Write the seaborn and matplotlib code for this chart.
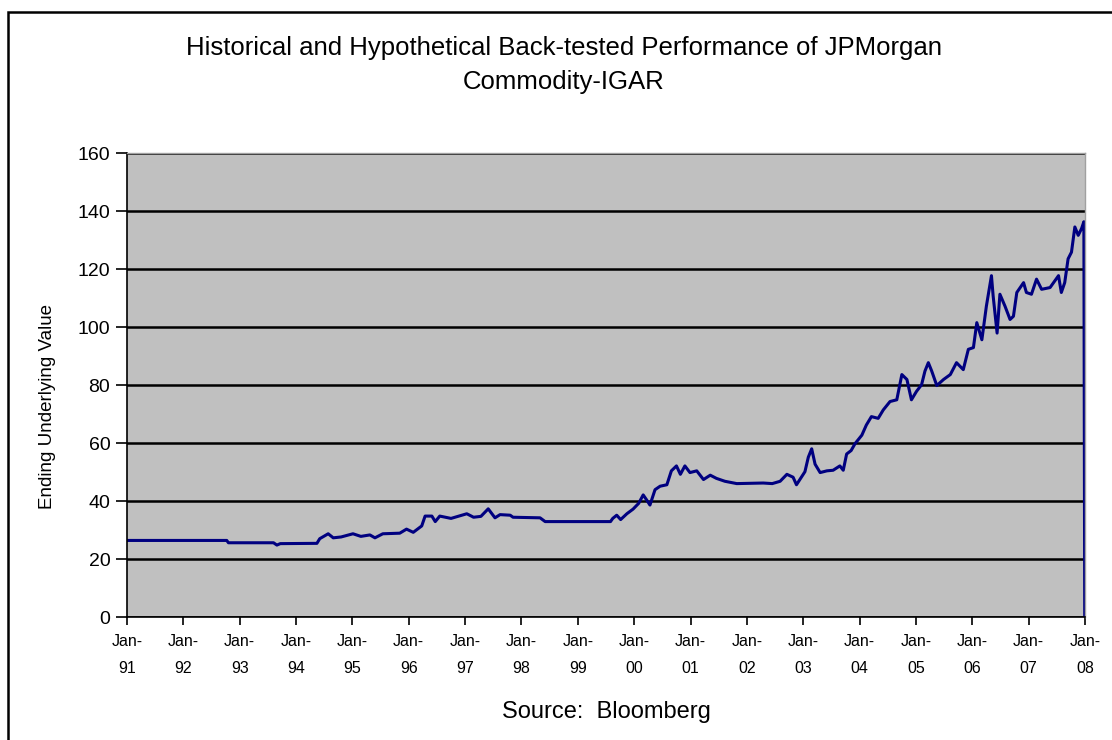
import pandas as pd
import seaborn as sns
import matplotlib.pyplot as plt
from matplotlib.patches import Rectangle

# dates as decimal years
years = [
    1991.00, 1992.77, 1992.80, 1993.60, 1993.66, 1993.72, 1994.37, 1994.42,
    1994.57, 1994.66, 1994.80, 1995.01, 1995.15, 1995.31, 1995.40, 1995.54,
    1995.84, 1995.96, 1996.08, 1996.23, 1996.29, 1996.41, 1996.47, 1996.55,
    1996.75, 1997.03, 1997.15, 1997.28, 1997.41, 1997.53, 1997.62, 1997.80,
    1997.85, 1998.33, 1998.42, 1999.58, 1999.62, 1999.69, 1999.76, 1999.87,
    1999.98, 2000.08, 2000.16, 2000.22, 2000.28, 2000.37, 2000.46, 2000.58,
    2000.66, 2000.75, 2000.82, 2000.90, 2000.99, 2001.11, 2001.23, 2001.35,
    2001.46, 2001.61, 2001.82, 2002.29, 2002.45, 2002.59, 2002.71, 2002.82,
    2002.88, 2002.94, 2003.03, 2003.09, 2003.15, 2003.21, 2003.30, 2003.42,
    2003.53, 2003.65, 2003.71, 2003.77, 2003.85, 2003.92, 2004.04, 2004.12,
    2004.21, 2004.33, 2004.42, 2004.54, 2004.66, 2004.75, 2004.84, 2004.92,
    2005.01, 2005.10, 2005.16, 2005.22, 2005.28, 2005.37, 2005.49, 2005.61,
    2005.72, 2005.84, 2005.93, 2006.02, 2006.08, 2006.17, 2006.25, 2006.34,
    2006.37, 2006.44, 2006.49, 2006.58, 2006.67, 2006.73, 2006.79, 2006.91,
    2006.96, 2007.05, 2007.14, 2007.23, 2007.38, 2007.53, 2007.58, 2007.64,
    2007.70, 2007.76, 2007.82, 2007.88, 2007.94, 2007.98, 2007.995,
]
values = [
    26.4, 26.4, 25.6, 25.6, 24.8, 25.3, 25.4, 27.0,
    28.7, 27.3, 27.6, 28.7, 27.8, 28.3, 27.3, 28.7,
    28.9, 30.3, 29.2, 31.4, 34.8, 34.8, 32.9, 34.8,
    34.0, 35.6, 34.4, 34.7, 37.3, 34.2, 35.3, 35.1,
    34.4, 34.2, 32.9, 32.9, 34.0, 35.1, 33.6, 35.6,
    37.2, 39.2, 42.1, 40.4, 38.6, 43.9, 45.1, 45.6,
    50.4, 52.1, 49.2, 52.1, 49.8, 50.4, 47.4, 48.9,
    47.8, 46.8, 46.0, 46.2, 46.0, 46.8, 49.2, 48.2,
    45.6, 47.4, 50.1, 55.1, 58.0, 52.7, 49.8, 50.4,
    50.6, 52.1, 50.6, 56.2, 57.4, 59.8, 62.7, 66.2,
    69.1, 68.5, 71.4, 74.3, 74.9, 83.6, 81.9, 74.9,
    77.8, 80.1, 84.8, 87.7, 84.8, 79.8, 81.9, 83.6,
    87.7, 85.3, 92.3, 92.9, 101.5, 95.6, 107.2, 117.7,
    110.7, 97.9, 111.3, 107.2, 102.6, 103.7, 111.9, 115.3,
    111.9, 111.3, 116.5, 113.0, 113.6, 117.7, 111.9, 115.3,
    123.5, 125.8, 134.5, 131.6, 134.0, 136.3, 0.0,
]

tick_years = list(range(1991, 2009))
tick_labels = ["Jan-\n%02d" % (y % 100) for y in tick_years]

df = pd.DataFrame({"year": years, "value": values})

sns.set_style("white")
plt.rcParams["font.family"] = ["Liberation Sans", "DejaVu Sans"]
plt.rcParams["text.color"] = "black"
plt.rcParams["axes.labelcolor"] = "black"
plt.rcParams["xtick.color"] = "black"
plt.rcParams["ytick.color"] = "black"

fig = plt.figure(figsize=(11.12, 7.40), dpi=100)
ax = fig.add_axes([127 / 1112, 1 - 617 / 740, 958 / 1112, 464 / 740])
ax.set_facecolor("#c0c0c0")

sns.lineplot(data=df, x="year", y="value", ax=ax, color="#000080",
             linewidth=2.2, estimator=None, sort=False)

ax.set_xlim(1991, 2008)
ax.set_ylim(0, 160)
ax.set_yticks(range(0, 161, 20))
ax.set_xticks(tick_years)
ax.set_xticklabels(tick_labels, fontsize=11.5, linespacing=2.0)
ax.tick_params(axis="y", labelsize=14, length=8, width=1.2, direction="out",
               left=True, pad=4)
ax.tick_params(axis="x", length=6, width=1.2, direction="out", bottom=True,
               pad=6)
ax.yaxis.grid(True, color="black", linewidth=1.8)
ax.set_axisbelow(True)

for s in ["left", "bottom"]:
    ax.spines[s].set_color("black")
    ax.spines[s].set_linewidth(1.2)
for s in ["top", "right"]:
    ax.spines[s].set_color("#a0a0a0")
    ax.spines[s].set_linewidth(1.0)

ax.set_ylabel("Ending Underlying Value", fontsize=13.5)
ax.yaxis.set_label_coords(-0.074, 0.453)
ax.set_xlabel("Source:  Bloomberg", fontsize=17, labelpad=18)

fig.text(0.507, 0.935, "Historical and Hypothetical Back-tested Performance of JPMorgan",
         ha="center", va="center", fontsize=18.5)
fig.text(0.507, 0.889, "Commodity-IGAR", ha="center", va="center", fontsize=18.5)

# outer frame of the chart
fig.patches.append(Rectangle((8 / 1112, -0.05), 1.2, 1.05 - 12 / 740,
                             transform=fig.transFigure, fill=False,
                             edgecolor="black", linewidth=1.8))

fig.savefig("out.png", dpi=100)
